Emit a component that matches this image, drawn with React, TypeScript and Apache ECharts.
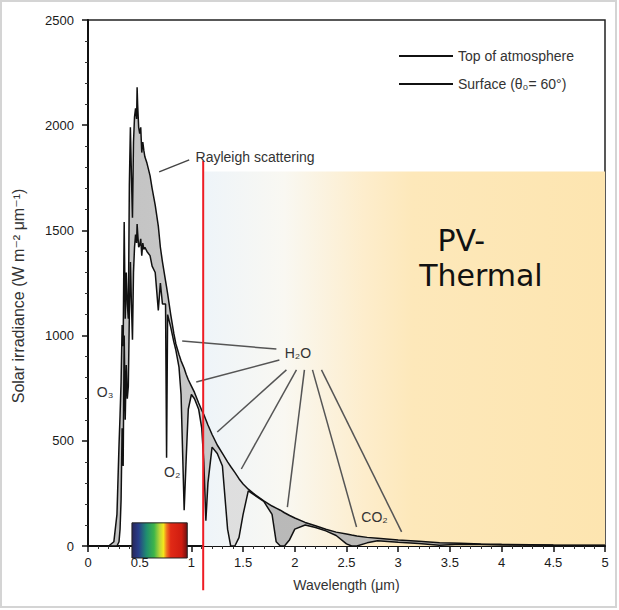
import React, { useEffect, useRef } from 'react';
import * as echarts from 'echarts';

// Wavelength grid (µm) shared by both spectra
const WAVELENGTH = [
  0.20, 0.25, 0.28, 0.30, 0.31, 0.32, 0.33, 0.34, 0.35, 0.36,
  0.37, 0.38, 0.39, 0.40, 0.41, 0.42, 0.43, 0.44, 0.45, 0.46,
  0.47, 0.475, 0.48, 0.49, 0.50, 0.51, 0.52, 0.53, 0.54, 0.55,
  0.57, 0.60, 0.62, 0.65, 0.68, 0.70, 0.72, 0.75, 0.76, 0.77,
  0.80, 0.83, 0.85, 0.88, 0.90, 0.93, 0.95, 0.97, 1.00, 1.03,
  1.07, 1.10, 1.12, 1.14, 1.16, 1.20, 1.25, 1.30, 1.35, 1.38,
  1.42, 1.46, 1.50, 1.55, 1.60, 1.70, 1.78, 1.82, 1.86, 1.90,
  1.95, 2.00, 2.10, 2.20, 2.30, 2.40, 2.50, 2.55, 2.60, 2.70,
  2.80, 3.00, 3.20, 3.40, 3.60, 3.80, 4.00, 4.50, 5.00,
];

// Solar irradiance at the top of the atmosphere (W m-2 µm-1)
const TOP_OF_ATMOSPHERE = [
  0, 20, 150, 480, 620, 780, 1050, 950, 1540, 1080,
  1300, 1150, 1080, 1720, 1990, 1760, 1560, 1920, 2040, 2080,
  2030, 2180, 2100, 1990, 1960, 1990, 1870, 1920, 1880, 1850,
  1820, 1760, 1700, 1620, 1520, 1420, 1350, 1260, 1230, 1200,
  1100, 1010, 960, 910, 880, 845, 815, 790, 760, 730,
  680, 645, 625, 600, 575, 530, 480, 440, 400, 378,
  350, 320, 295, 270, 250, 215, 190, 180, 170, 158,
  145, 133, 112, 96, 80, 66, 57, 52, 48, 41,
  37, 28, 22, 16, 13, 10, 8, 5, 4,
];

// Solar irradiance at the surface, zenith angle 60°
const SURFACE = [
  0, 0, 0, 20, 80, 220, 560, 380, 1000, 600,
  860, 700, 760, 1100, 1350, 1150, 980, 1300, 1420, 1480,
  1440, 1530, 1490, 1420, 1430, 1460, 1380, 1440, 1410, 1420,
  1400, 1380, 1330, 1300, 1120, 1250, 1150, 1150, 420, 1100,
  1040, 970, 930, 850, 720, 170, 420, 650, 720, 700,
  650, 560, 400, 120, 300, 470, 440, 380, 80, 0,
  0, 40, 150, 262, 245, 212, 150, 20, 0, 0,
  30, 80, 100, 88, 72, 50, 10, 0, 0, 15,
  25, 18, 12, 4, 8, 7, 5, 3, 2,
];

const SERIES_NAMES = ['Top of atmosphere', 'Surface (θ₀= 60°)'];

// Annotation leader lines, in data coordinates [wavelength, irradiance]
const RAYLEIGH_LEADER = [[0.688, 1778], [0.979, 1835]];
const H2O_LEADERS = [
  [[0.911, 974], [1.822, 936]],
  [[1.047, 779], [1.851, 884]],
  [[1.919, 837], [1.25, 542]],
  [[2.016, 837], [1.483, 366]],
  [[2.093, 837], [1.928, 185]],
  [[2.171, 837], [2.597, 90]],
  [[2.258, 837], [3.033, 67]],
];
const LABELS = [
  { text: 'Rayleigh scattering', at: [1.04, 1848], align: 'left' },
  { text: 'H₂O', at: [2.03, 915], align: 'center' },
  { text: 'O₃', at: [0.165, 732], align: 'center' },
  { text: 'O₂', at: [0.814, 352], align: 'center' },
  { text: 'CO₂', at: [2.771, 138], align: 'center' },
];
const PV_REGION = { from: [1.12, 1780], to: [5, 0] };
const PV_LINES = [
  { text: 'PV-', at: [3.61, 1450] },
  { text: 'Thermal', at: [3.80, 1285] },
];
const RED_MARKER = { x: 1.114, top: 1830, bottom: -210 };
const VISIBLE_BAND = { from: [0.425, 110], to: [0.96, -57] };

export default function App() {
  const ref = useRef<HTMLDivElement>(null);

  useEffect(() => {
    const chart = echarts.init(ref.current!, null, { renderer: 'svg' });
    const toaPairs = WAVELENGTH.map((w, i) => [w, TOP_OF_ATMOSPHERE[i]]);
    const surfPairs = WAVELENGTH.map((w, i) => [w, SURFACE[i]]);
    const bandRows = WAVELENGTH.map((w, i) => [w, TOP_OF_ATMOSPHERE[i], SURFACE[i]]);
    const font = 'Liberation Sans, Arial, DejaVu Sans, sans-serif';
    const plain = (v: number) => String(v);

    chart.setOption({
      animation: false,
      backgroundColor: '#ffffff',
      textStyle: { fontFamily: font },
      grid: {
        left: 88, top: 20, right: 14, bottom: 64,
        show: true, borderColor: '#222', borderWidth: 1.5, backgroundColor: 'transparent',
      },
      legend: {
        data: SERIES_NAMES,
        orient: 'vertical',
        left: 394,
        top: 44,
        icon: 'rect',
        itemWidth: 54,
        itemHeight: 2,
        itemGap: 14,
        selectedMode: false,
        textStyle: { fontSize: 14, color: '#333', fontFamily: font },
      },
      xAxis: {
        type: 'value', min: 0, max: 5, interval: 0.5,
        name: 'Wavelength (μm)', nameLocation: 'middle', nameGap: 32,
        nameTextStyle: { fontSize: 14, color: '#333' },
        axisLine: { onZero: false, lineStyle: { color: '#111', width: 2 } },
        axisTick: { show: true, length: 6, lineStyle: { color: '#111', width: 1.5 } },
        minorTick: { show: true, splitNumber: 5, length: 3, lineStyle: { color: '#333' } },
        axisLabel: { fontSize: 13, color: '#1a1a1a', margin: 10, formatter: plain },
        splitLine: { show: false },
      },
      yAxis: {
        type: 'value', min: 0, max: 2500, interval: 500,
        name: 'Solar irradiance (W m⁻² μm⁻¹)', nameLocation: 'middle', nameGap: 62,
        nameTextStyle: { fontSize: 16, color: '#333', padding: [0, 26, 0, 0] },
        axisLine: { onZero: false, lineStyle: { color: '#111', width: 2 } },
        axisTick: { show: true, length: 6, lineStyle: { color: '#111', width: 1.5 } },
        minorTick: { show: true, splitNumber: 5, length: 3, lineStyle: { color: '#333' } },
        axisLabel: { fontSize: 13, color: '#1a1a1a', margin: 14, formatter: plain },
        splitLine: { show: false },
      },
      series: [
        {
          type: 'custom', name: 'absorbed', silent: true, z: 2, clip: true,
          data: bandRows,
          encode: { x: 0, y: [1, 2] },
          renderItem: (params: any, api: any) => {
            if (params.dataIndex !== 0) return null;
            const upper = bandRows.map((r) => api.coord([r[0], r[1]]));
            const lower = bandRows.map((r) => api.coord([r[0], r[2]])).reverse();
            const xa = api.coord([1.25, 0])[0];
            const xb = api.coord([1.6, 0])[0];
            const x0 = api.coord([WAVELENGTH[0], 0])[0];
            const x1 = api.coord([WAVELENGTH[WAVELENGTH.length - 1], 0])[0];
            const f = (x: number) => (x - x0) / (x1 - x0);
            return {
              type: 'polygon',
              shape: { points: upper.concat(lower) },
              style: {
                opacity: 0.9,
                fill: {
                  type: 'linear', x: 0, y: 0, x2: 1, y2: 0,
                  colorStops: [
                    { offset: 0, color: '#bcbcbc' },
                    { offset: f(xa), color: '#c4c4c4' },
                    { offset: f(xa) + 0.01, color: '#dcdcdc' },
                    { offset: f(xb), color: '#dcdcdc' },
                    { offset: f(xb) + 0.03, color: '#b2b2b2' },
                    { offset: 1, color: '#b8b8b8' },
                  ],
                },
              },
            };
          },
        },
        {
          type: 'line', name: SERIES_NAMES[0], data: toaPairs, symbol: 'none',
          lineStyle: { color: '#111', width: 1.5 }, itemStyle: { color: '#111' }, z: 4,
        },
        {
          type: 'line', name: SERIES_NAMES[1], data: surfPairs, symbol: 'none',
          lineStyle: { color: '#111', width: 1.5 }, itemStyle: { color: '#111' }, z: 4,
          markArea: {
            silent: true,
            itemStyle: {
              color: {
                type: 'linear', x: 0, y: 0, x2: 1, y2: 0,
                colorStops: [
                  { offset: 0, color: '#eef4f9' },
                  { offset: 0.2, color: '#f9f8f2' },
                  { offset: 0.4, color: '#fdedcc' },
                  { offset: 0.52, color: '#fde8ba' },
                  { offset: 1, color: '#fde5b0' },
                ],
              },
            },
            data: [[{ coord: PV_REGION.from }, { coord: PV_REGION.to }]],
          },
        },
      ],
    });

    const px = (p: number[]) => chart.convertToPixel({ gridIndex: 0 }, p) as number[];
    const graphics: any[] = [];

    const lineEl = (a: number[], b: number[], stroke: string, w: number) => {
      const pa = px(a);
      const pb = px(b);
      return {
        type: 'line', z: 20, silent: true,
        shape: { x1: pa[0], y1: pa[1], x2: pb[0], y2: pb[1] },
        style: { stroke, lineWidth: w },
      };
    };

    graphics.push(lineEl(RAYLEIGH_LEADER[0], RAYLEIGH_LEADER[1], '#444', 1.5));
    H2O_LEADERS.forEach((l) => graphics.push(lineEl(l[0], l[1], '#555', 1.5)));

    LABELS.forEach((l) => {
      const p = px(l.at);
      graphics.push({
        type: 'text', z: 21, silent: true, x: p[0], y: p[1],
        style: {
          text: l.text, fill: '#333', fontSize: 14, fontFamily: font,
          textAlign: l.align, textVerticalAlign: 'middle',
        },
      });
    });

    // Visible-light colour band
    const b0 = px(VISIBLE_BAND.from);
    const b1 = px(VISIBLE_BAND.to);
    graphics.push({
      type: 'rect', z: 22, silent: true,
      shape: { x: b0[0], y: b0[1], width: b1[0] - b0[0], height: b1[1] - b0[1] },
      style: {
        stroke: '#222', lineWidth: 1,
        fill: {
          type: 'linear', x: 0, y: 0, x2: 1, y2: 0,
          colorStops: [
            { offset: 0, color: '#28265a' },
            { offset: 0.12, color: '#283d8a' },
            { offset: 0.26, color: '#1f8d70' },
            { offset: 0.4, color: '#3db54a' },
            { offset: 0.5, color: '#b9d638' },
            { offset: 0.57, color: '#f4e61c' },
            { offset: 0.63, color: '#f0721e' },
            { offset: 0.7, color: '#e12a16' },
            { offset: 0.9, color: '#cf1c10' },
            { offset: 1, color: '#6e1010' },
          ],
        },
      },
    });

    // Red marker line
    graphics.push(lineEl([RED_MARKER.x, RED_MARKER.top], [RED_MARKER.x, RED_MARKER.bottom], '#ee1c24', 2));

    // PV-Thermal label
    PV_LINES.forEach((l) => {
      const p = px(l.at);
      graphics.push({
        type: 'text', z: 21, silent: true, x: p[0], y: p[1],
        style: {
          text: l.text, fill: '#111', fontSize: 30, fontFamily: 'DejaVu Sans, Verdana, sans-serif',
          textAlign: 'center', textVerticalAlign: 'middle',
        },
      });
    });

    // Outer picture frame
    graphics.push({
      type: 'rect', z: 30, silent: true,
      shape: { x: 1, y: 1, width: 615, height: 606 },
      style: { stroke: '#d4d4d4', lineWidth: 2, fill: 'none' },
    });

    chart.setOption({ graphic: graphics });

    return () => chart.dispose();
  }, []);

  return (
    <div
      ref={ref}
      style={{ position: 'fixed', left: 0, top: 0, width: 619, height: 610 }}
    />
  );
}
